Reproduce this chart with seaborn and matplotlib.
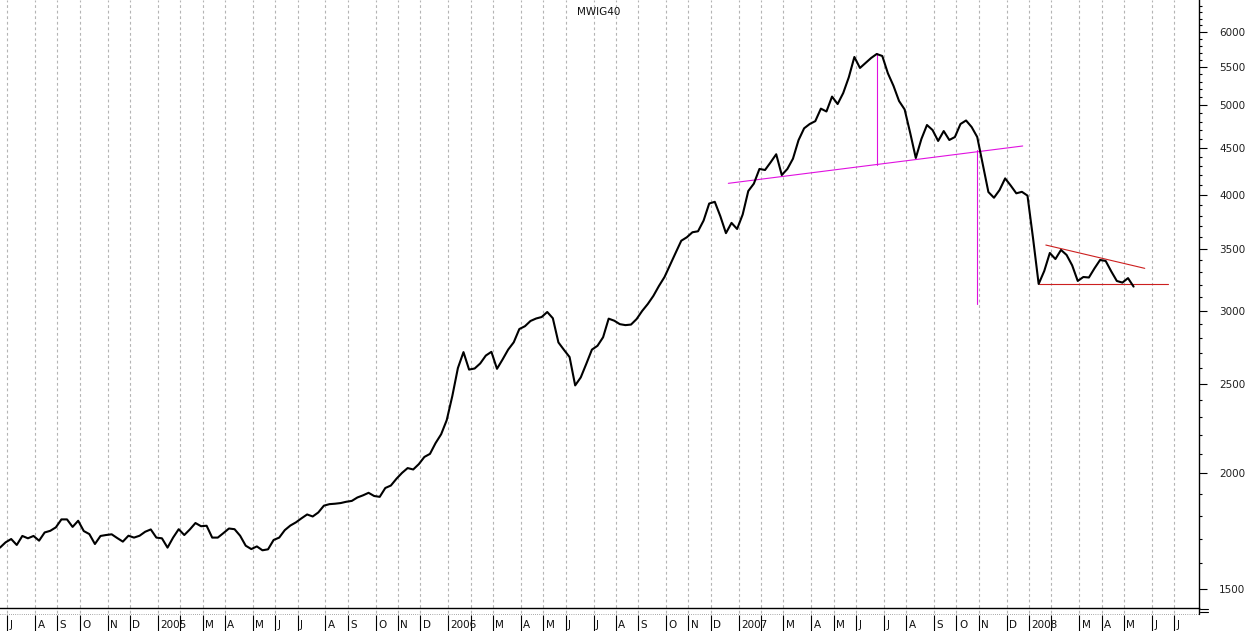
import numpy as np
import pandas as pd
import matplotlib
matplotlib.use("Agg")
import matplotlib.pyplot as plt
import matplotlib.transforms as mtransforms
from matplotlib.lines import Line2D
from matplotlib.ticker import FixedLocator, FixedFormatter, NullFormatter
import seaborn as sns

# ---------------- data ----------------
START_DATE = "2004-06-25"          # first weekly close shown
X_END = "2008-08-06"               # right edge of the chart area
LAST_MONTH = "2008-07-31"          # last month boundary shown on the time axis
Y_MIN, Y_MAX = 1431, 6497

mwig40 = [
    1663, 1685, 1699, 1674, 1712, 1702, 1712, 1692, 1727, 1734,
    1749, 1784, 1784, 1751, 1778, 1733, 1720, 1678, 1712, 1716,
    1719, 1703, 1688, 1713, 1705, 1713, 1730, 1740, 1705, 1702,
    1663, 1705, 1741, 1716, 1740, 1768, 1754, 1756, 1705, 1705,
    1724, 1744, 1741, 1713, 1671, 1657, 1668, 1652, 1656, 1695,
    1705, 1737, 1757, 1771, 1789,
    1806, 1797, 1815, 1846, 1853, 1855, 1858, 1864, 1868, 1884,
    1894, 1906, 1891, 1887, 1929, 1941, 1974, 2003, 2027, 2020,
    2047, 2084, 2100, 2157, 2205, 2284, 2425,
    2600, 2705, 2590, 2597, 2630, 2682, 2707, 2595, 2656, 2722,
    2772, 2865, 2885, 2923, 2941, 2952, 2989, 2943, 2771, 2720,
    2672, 2490, 2540, 2628, 2722, 2748, 2807, 2940,
    2925, 2900, 2893, 2897, 2937, 2997, 3049, 3111, 3189, 3261,
    3362, 3464, 3569, 3600, 3645, 3654, 3753, 3915, 3932, 3793,
    3637, 3731, 3675, 3810, 4039, 4114,
    4267, 4256, 4338, 4426, 4203, 4267, 4377, 4584, 4721, 4772,
    4806, 4958, 4923, 5109, 5015, 5154, 5360, 5638, 5486, 5554,
    5624, 5680, 5652, 5414, 5248, 5053, 4948, 4666, 4385, 4597,
    4760, 4701, 4575, 4689, 4586, 4620, 4772, 4814, 4736, 4620,
    4313, 4029, 3972, 4049, 4168, 4094, 4016, 4031, 3993, 3589,
    3205, 3310, 3462, 3410, 3488, 3445, 3357, 3229, 3261, 3257,
    3332, 3402, 3394, 3307, 3229, 3216, 3252, 3184,
]

y_major = [1500, 2000, 2500, 3000, 3500, 4000, 4500, 5000, 5500, 6000]
y_minor = list(range(1500, 6500, 100))
# month label letters (January shows the year, February label is hidden by it)
month_labels = {2: "", 3: "M", 4: "A", 5: "M", 6: "J", 7: "J",
                8: "A", 9: "S", 10: "O", 11: "N", 12: "D"}

# technical-analysis lines (date, value)
neck_dates = ["2006-12-25", "2007-12-29"]
neck_vals = [4117, 4518]
drop1_dates = ["2007-06-29", "2007-06-29"]
drop1_vals = [5698, 4309]
drop2_dates = ["2007-11-02", "2007-11-02"]
drop2_vals = [4473, 3049]
tri_top_dates = ["2008-01-27", "2008-05-30"]
tri_top_vals = [3531, 3332]
tri_base_dates = ["2008-01-19", "2008-06-28"]
tri_base_vals = [3205, 3205]

# ---------------- figure ----------------
sns.set_style("white")
plt.rcParams["font.family"] = ["DejaVu Sans"]

W, H = 1250, 631
fig = plt.figure(figsize=(W / 100, H / 100), dpi=100)
ax = fig.add_axes([0, 23 / H, 1199 / W, 608 / H])

dates = pd.date_range(START_DATE, periods=len(mwig40), freq="7D")
df = pd.DataFrame({"date": dates, "value": mwig40})

sns.lineplot(data=df, x="date", y="value", ax=ax, color="black",
             linewidth=1.5, zorder=5)

mag = "#e010e0"
red = "#cc1f1f"
for d, v, c in [(neck_dates, neck_vals, mag), (drop1_dates, drop1_vals, mag),
                (drop2_dates, drop2_vals, mag), (tri_top_dates, tri_top_vals, red),
                (tri_base_dates, tri_base_vals, red)]:
    ax.plot(pd.to_datetime(d), v, color=c, linewidth=0.8, zorder=4)

ax.set_yscale("log")
ax.set_ylim(Y_MIN, Y_MAX)
ax.set_xlim(pd.Timestamp(START_DATE), pd.Timestamp(X_END))
ax.set_xlabel("")
ax.set_ylabel("")

# y axis on the right
ax.yaxis.tick_right()
ax.yaxis.set_major_locator(FixedLocator(y_major))
ax.yaxis.set_major_formatter(FixedFormatter([str(v) for v in y_major]))
ax.yaxis.set_minor_locator(FixedLocator([v for v in y_minor if v not in y_major]))
ax.yaxis.set_minor_formatter(NullFormatter())
ax.tick_params(axis="y", which="major", direction="out", length=5.8, width=0.8,
               pad=8.6, labelsize=7.5, labelcolor="#202020", color="black",
               left=False, right=True)
ax.tick_params(axis="y", which="minor", direction="out", length=2.2, width=0.8,
               color="black", left=False, right=True)
ax.tick_params(axis="x", which="both", bottom=False, top=False, labelbottom=False)

for s in ["left", "top"]:
    ax.spines[s].set_visible(False)
for s in ["right", "bottom"]:
    ax.spines[s].set_visible(True)
    ax.spines[s].set_color("black")
    ax.spines[s].set_linewidth(1.0)

# month boundaries: first weekly bar of each month
fridays = pd.date_range("2004-06-01", "2008-08-31", freq="W-FRI")
fr = pd.Series(fridays)
firsts = fr.groupby([fr.dt.year, fr.dt.month]).min()
bounds = [b + pd.Timedelta(days=2) for b in firsts
          if pd.Timestamp(START_DATE) <= b + pd.Timedelta(days=2) <= pd.Timestamp(LAST_MONTH)]

trans = mtransforms.blended_transform_factory(ax.transData, ax.transAxes)
px = 1 / 608
ax.vlines(bounds, -5 * px, 1, transform=trans, colors="#b4b4b4",
          linestyles=(0, (2.5, 2.5)), linewidth=0.8, clip_on=False, zorder=0)
ax.vlines(bounds, -7 * px, -24 * px, transform=trans, colors="black",
          linewidth=0.8, clip_on=False)
ax.plot([0, 1], [-6 * px, -6 * px], transform=ax.transAxes, linestyle=(0, (0.6, 1.6)),
        color="#707070", linewidth=0.7, clip_on=False)
for b in bounds:
    lab = str(b.year) if b.month == 1 else month_labels[b.month]
    if lab:
        ax.text(b + pd.Timedelta(days=3), -16.5 * px, lab, transform=trans,
                ha="left", va="center", fontsize=7.5, color="#101010")

# small decorations at the bottom right corner
fig.add_artist(Line2D([1199 / W, 1199 / W], [(H - 608) / H, (H - 614) / H],
                      color="black", linewidth=1.0, transform=fig.transFigure))
for yy in (609.3, 611.7):
    fig.add_artist(Line2D([1200 / W, 1208 / W], [(H - yy) / H] * 2,
                          color="black", linewidth=0.8, transform=fig.transFigure))

fig.text(599 / W, 1 - 12 / H, "MWIG40", ha="center", va="center",
         fontsize=7.5, color="#101010")

fig.savefig("out.png", dpi=100)
